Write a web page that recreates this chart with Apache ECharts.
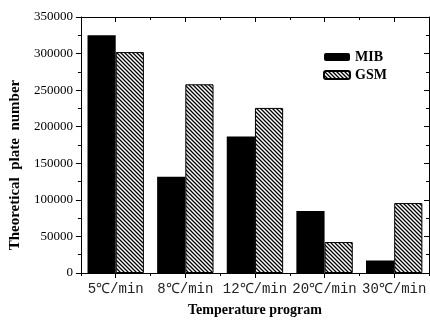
<!DOCTYPE html>
<html>
<head>
<meta charset="utf-8">
<script src="https://cdn.jsdelivr.net/npm/echarts@6/dist/echarts.min.js"></script>
<style>
  html, body { margin: 0; padding: 0; background: #fff; }
  #chart { width: 430px; height: 322px; }
</style>
</head>
<body>
<div id="chart"></div>
<script>
// values
const categories = ["5℃/min", "8℃/min", "12℃/min", "20℃/min", "30℃/min"];
const mib = [325000, 131500, 186500, 84800, 17100];
const gsm = [302000, 258000, 225700, 42300, 95600];

const SERIF = "'Liberation Serif', 'Times New Roman', serif";
const MONO = "'Liberation Mono', 'DejaVu Sans Mono', monospace";

// diagonal hatch for the GSM bars
function hatch() {
  const c = document.createElement("canvas");
  c.width = 4; c.height = 4;
  const g = c.getContext("2d");
  g.fillStyle = "#fff";
  g.fillRect(0, 0, 4, 4);
  g.strokeStyle = "#000";
  g.lineWidth = 1.3;
  g.beginPath();
  g.moveTo(-1, -1); g.lineTo(5, 5);
  g.moveTo(3, -1); g.lineTo(5, 1);
  g.moveTo(-1, 3); g.lineTo(1, 5);
  g.stroke();
  return c;
}

const chart = echarts.init(document.getElementById("chart"));

const line = { show: true, lineStyle: { color: "#000", width: 1 } };

chart.setOption({
  backgroundColor: "#fff",
  animation: false,
  grid: { left: 80, right: 1, top: 17, bottom: 45 },
  legend: {
    orient: "vertical",
    left: 318,
    top: 45,
    itemWidth: 26,
    itemHeight: 8,
    itemGap: 4,
    textStyle: { fontFamily: SERIF, fontWeight: "bold", fontSize: 14, color: "#000" },
    data: ["MIB", "GSM"],
  },
  xAxis: [
    {
      type: "category",
      data: categories,
      position: "bottom",
      axisLine: line,
      axisTick: { show: true, alignWithLabel: true, length: 5, lineStyle: { color: "#000" } },
      axisLabel: { interval: 0, fontFamily: MONO, fontSize: 14, color: "#222", margin: 9 },
      name: "Temperature program",
      nameLocation: "middle",
      nameGap: 30,
      nameTextStyle: { fontFamily: SERIF, fontWeight: "bold", fontSize: 14, color: "#000" },
    },
    {
      type: "category",
      data: categories,
      position: "bottom",
      axisLine: { show: false },
      axisTick: { show: true, length: 3, lineStyle: { color: "#000" } },
      axisLabel: { show: false },
    },
    {
      type: "category",
      data: categories,
      position: "top",
      axisLine: line,
      axisTick: { show: true, inside: true, alignWithLabel: true, length: 5, lineStyle: { color: "#000" } },
      axisLabel: { show: false },
    },
    {
      type: "category",
      data: categories,
      position: "top",
      axisLine: { show: false },
      axisTick: { show: true, inside: true, length: 3, lineStyle: { color: "#000" } },
      axisLabel: { show: false },
    },
  ],
  yAxis: [
    {
      type: "value",
      min: 0,
      max: 350000,
      interval: 50000,
      position: "left",
      axisLine: line,
      axisTick: { show: true, length: 5, lineStyle: { color: "#000" } },
      minorTick: { show: true, splitNumber: 2, length: 3, lineStyle: { color: "#000" } },
      splitLine: { show: false },
      axisLabel: { fontFamily: SERIF, fontSize: 13, color: "#000", margin: 8, formatter: v => String(v) },
      name: "Theoretical  plate  number",
      nameLocation: "middle",
      nameGap: 56,
      nameTextStyle: {
        fontFamily: SERIF, fontWeight: "bold", fontSize: 15, color: "#000",
        padding: [0, 40, 0, 0],
      },
    },
    {
      type: "value",
      min: 0,
      max: 350000,
      interval: 50000,
      position: "right",
      axisLine: line,
      axisTick: { show: true, inside: true, length: 5, lineStyle: { color: "#000" } },
      minorTick: { show: true, splitNumber: 2, length: 3, lineStyle: { color: "#000" } },
      splitLine: { show: false },
      axisLabel: { show: false },
    },
  ],
  series: [
    {
      name: "MIB",
      type: "bar",
      data: mib,
      barGap: "0%",
      barCategoryGap: "19%",
      itemStyle: { color: "#000" },
    },
    {
      name: "GSM",
      type: "bar",
      data: gsm,
      barGap: "0%",
      barCategoryGap: "19%",
      itemStyle: { color: { image: hatch(), repeat: "repeat" }, borderColor: "#000", borderWidth: 1 },
    },
  ],
});
</script>
</body>
</html>
